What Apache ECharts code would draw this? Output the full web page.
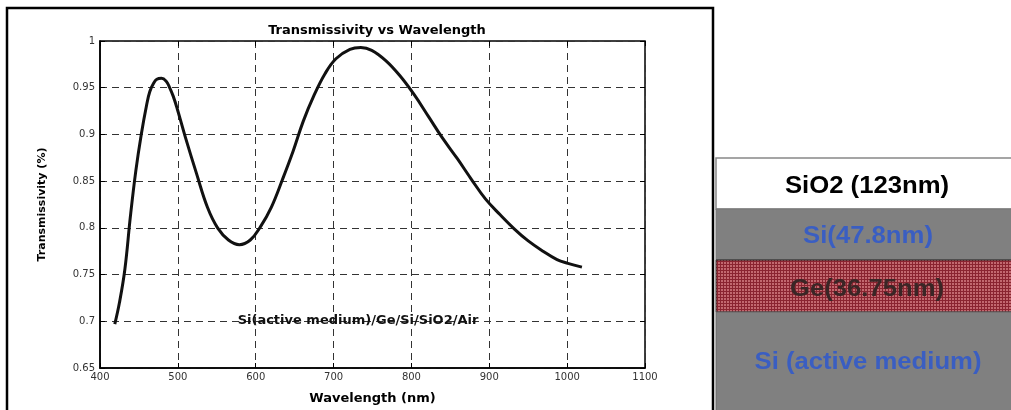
<!DOCTYPE html>
<html>
<head>
<meta charset="utf-8">
<script src="https://cdn.jsdelivr.net/npm/echarts@6/dist/echarts.min.js"></script>
<style>
  html, body { margin: 0; padding: 0; background: #fff; }
  #chart { width: 1011px; height: 410px; }
</style>
</head>
<body>
<div id="chart"></div>
<script>
// curve
var wavelength = [419, 425, 432, 439, 446, 453, 460, 464, 469, 473, 479, 485, 489, 494, 499, 510, 524, 538, 551, 565, 579, 593, 606,
  620, 634, 648, 661, 675, 689, 703, 721, 735, 749, 767, 785, 804, 822, 840, 859, 877, 895, 914, 932, 950, 969, 987, 1001, 1019];
var transmissivity = [0.697, 0.720, 0.756, 0.812, 0.861, 0.900, 0.932, 0.946, 0.955, 0.959, 0.960, 0.957, 0.951, 0.941, 0.928, 0.896, 0.858, 0.822, 0.800, 0.787, 0.782, 0.787, 0.801,
  0.822, 0.851, 0.882, 0.914, 0.942, 0.965, 0.981, 0.991, 0.993, 0.990, 0.979, 0.963, 0.942, 0.919, 0.896, 0.874, 0.852, 0.831, 0.814, 0.799, 0.786, 0.775, 0.766, 0.762, 0.758];
var structureLabel = "Si(active medium)/Ge/Si/SiO2/Air";
// layer stack, top to bottom
var layerNames = ["SiO2 (123nm)", "Si(47.8nm)", "Ge(36.75nm)", "Si (active medium)"];

var points = wavelength.map(function (w, i) { return [w, transmissivity[i]]; });

// red mesh for the Ge layer
var mesh = document.createElement("canvas");
mesh.width = 3; mesh.height = 3;
var mctx = mesh.getContext("2d");
mctx.fillStyle = "#c2686f";
mctx.fillRect(0, 0, 3, 3);
mctx.fillStyle = "#8a2430";
mctx.fillRect(0, 0, 3, 1);
mctx.fillRect(0, 0, 1, 3);

var font = "DejaVu Sans";
var chart = echarts.init(document.getElementById("chart"));

function layerText(i, x, y, color) {
  return {
    type: "text", x: x, y: y, scaleX: 1.07,
    style: { text: layerNames[i], font: "bold 24px 'Liberation Sans'", fill: color, textAlign: "center", textVerticalAlign: "middle" }
  };
}

var option = {
  backgroundColor: "#fff",
  animation: false,
  title: {
    text: "Transmissivity vs Wavelength",
    left: 372, top: 19, textAlign: "center",
    textStyle: { fontFamily: font, fontSize: 13, fontWeight: "bold", color: "#000" }
  },
  grid: { left: 100, right: 366, top: 41, bottom: 40, show: true, borderColor: "#000", borderWidth: 1.5 },
  xAxis: [{
    type: "value", min: 400, max: 1100, interval: 100,
    name: "Wavelength (nm)", nameLocation: "middle", nameGap: 24,
    nameTextStyle: { fontFamily: font, fontSize: 13, fontWeight: "bold", color: "#000" },
    axisLine: { lineStyle: { color: "#000", width: 1.5 } },
    axisTick: { inside: true, length: 5, lineStyle: { color: "#000" } },
    axisLabel: { fontFamily: font, fontSize: 10, color: "#333", margin: 4, formatter: function (v) { return String(v); } },
    splitLine: { show: true, lineStyle: { color: "#333", type: [7, 5], width: 1 } }
  }, {
    type: "value", position: "top", min: 400, max: 1100, interval: 100,
    axisLine: { show: false },
    axisTick: { inside: true, length: 5, lineStyle: { color: "#000" } },
    axisLabel: { show: false }, splitLine: { show: false }
  }],
  yAxis: [{
    type: "value", min: 0.65, max: 1, interval: 0.05,
    name: "Transmissivity (%)", nameLocation: "middle", nameGap: 52,
    nameTextStyle: { fontFamily: font, fontSize: 11, fontWeight: "bold", color: "#000" },
    axisLine: { show: true, lineStyle: { color: "#000", width: 1.5 } },
    axisTick: { show: true, inside: true, length: 5, lineStyle: { color: "#000" } },
    axisLabel: { fontFamily: font, fontSize: 10, color: "#333", margin: 5 },
    splitLine: { show: true, lineStyle: { color: "#333", type: [7, 5], width: 1 } }
  }, {
    type: "value", position: "right", min: 0.65, max: 1, interval: 0.05,
    axisLine: { show: false },
    axisTick: { show: true, inside: true, length: 5, lineStyle: { color: "#000" } },
    axisLabel: { show: false }, splitLine: { show: false }
  }],
  series: [{
    type: "line",
    data: points,
    smooth: 0.4,
    showSymbol: false,
    lineStyle: { color: "#111", width: 3 }
  }],
  graphic: [
    // outer frame of the plot figure
    { type: "rect", shape: { x: 7, y: 8, width: 706, height: 420 }, style: { fill: null, stroke: "#000", lineWidth: 2.5 }, z: 10 },
    { type: "text", x: 358, y: 321, style: { text: structureLabel, font: "bold 13px " + font, fill: "#111", textAlign: "center", textVerticalAlign: "middle" }, z: 10 },
    // layer stack on the right
    { type: "rect", shape: { x: 716, y: 158, width: 300, height: 51 }, style: { fill: "#fff", stroke: "#888", lineWidth: 1.5 } },
    { type: "rect", shape: { x: 716, y: 209, width: 300, height: 51 }, style: { fill: "#808080", stroke: "#777", lineWidth: 1 } },
    { type: "rect", shape: { x: 716, y: 260, width: 300, height: 52 }, style: { fill: { image: mesh, repeat: "repeat" }, stroke: "#222", lineWidth: 1 } },
    { type: "rect", shape: { x: 716, y: 312, width: 300, height: 110 }, style: { fill: "#808080", stroke: "#666", lineWidth: 1 } },
    layerText(0, 867, 186, "#000"),
    layerText(1, 868, 236, "#3a5ec2"),
    layerText(2, 867, 289, "#3a2626"),
    layerText(3, 868, 362, "#3a5ec2")
  ]
};
chart.setOption(option);
</script>
</body>
</html>
